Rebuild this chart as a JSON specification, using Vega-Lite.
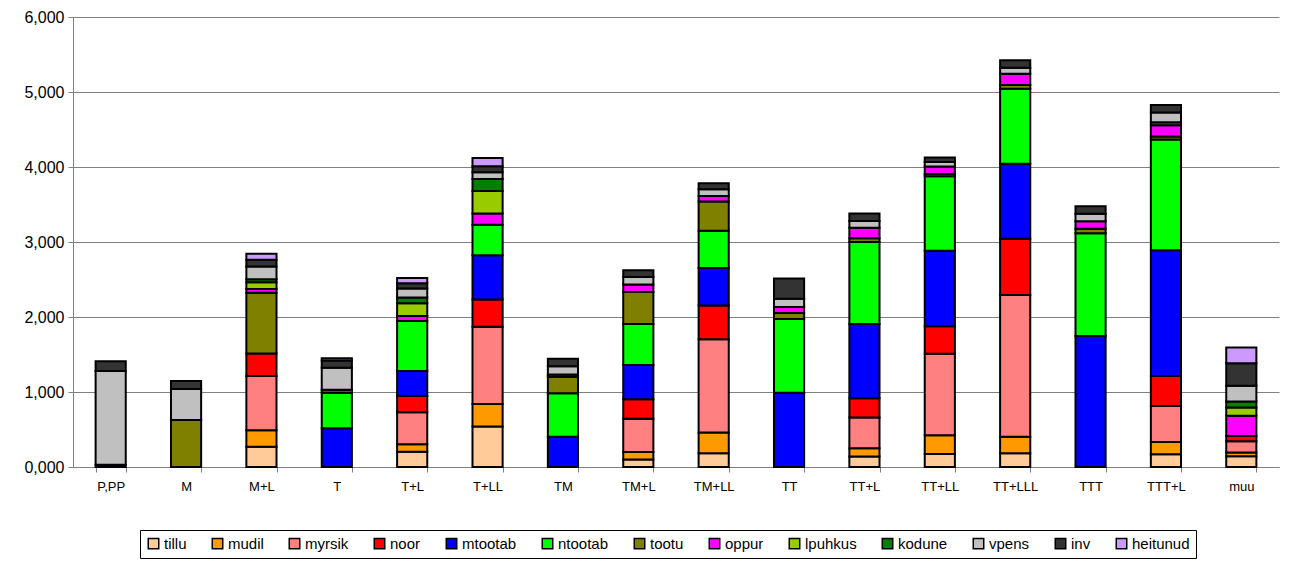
{
  "$schema": "https://vega.github.io/schema/vega-lite/v6.json",
  "width": 1206,
  "height": 450,
  "autosize": {"type": "none"},
  "padding": {"left": 73, "top": 17, "right": 10, "bottom": 95},
  "background": "white",
  "config": {"font": "Liberation Sans", "view": {"stroke": null}},
  "data": {"values": [
    {"c": "P,PP", "mtootab": 30, "vpens": 1250, "inv": 130},
    {"c": "M", "tootu": 627, "vpens": 413, "inv": 107},
    {"c": "M+L", "tillu": 270, "mudil": 220, "myrsik": 725, "noor": 300, "tootu": 808, "oppur": 50, "lpuhkus": 90, "kodune": 40, "vpens": 170, "inv": 90, "heitunud": 80},
    {"c": "T", "mtootab": 516, "ntootab": 475, "oppur": 40, "vpens": 293, "inv": 95, "heitunud": 30},
    {"c": "T+L", "tillu": 205, "mudil": 100, "myrsik": 425, "noor": 218, "mtootab": 333, "ntootab": 667, "oppur": 66, "lpuhkus": 170, "kodune": 75, "vpens": 120, "inv": 70, "heitunud": 70},
    {"c": "T+LL", "tillu": 540, "mudil": 300, "myrsik": 1030, "noor": 365, "mtootab": 590, "ntootab": 405, "oppur": 150, "lpuhkus": 300, "kodune": 160, "vpens": 90, "inv": 80, "heitunud": 110},
    {"c": "TM", "mtootab": 405, "ntootab": 578, "tootu": 222, "oppur": 30, "vpens": 110, "inv": 100},
    {"c": "TM+L", "tillu": 100, "mudil": 100, "myrsik": 444, "noor": 258, "mtootab": 458, "ntootab": 547, "tootu": 426, "oppur": 100, "vpens": 100, "inv": 90},
    {"c": "TM+LL", "tillu": 185, "mudil": 275, "myrsik": 1245, "noor": 450, "mtootab": 500, "ntootab": 495, "tootu": 390, "oppur": 75, "vpens": 90, "inv": 80},
    {"c": "TT", "mtootab": 990, "ntootab": 983, "tootu": 80, "oppur": 80, "vpens": 110, "inv": 270},
    {"c": "TT+L", "tillu": 140, "mudil": 110, "myrsik": 410, "noor": 258, "mtootab": 990, "ntootab": 1093, "tootu": 50, "oppur": 140, "vpens": 90, "inv": 100},
    {"c": "TT+LL", "tillu": 175, "mudil": 250, "myrsik": 1085, "noor": 368, "mtootab": 1004, "ntootab": 996, "tootu": 30, "oppur": 100, "vpens": 60, "inv": 60},
    {"c": "TT+LLL", "tillu": 185, "mudil": 220, "myrsik": 1890, "noor": 750, "mtootab": 1000, "ntootab": 1000, "tootu": 50, "oppur": 150, "vpens": 80, "inv": 100},
    {"c": "TTT", "mtootab": 1747, "ntootab": 1370, "tootu": 60, "oppur": 100, "vpens": 100, "inv": 100},
    {"c": "TTT+L", "tillu": 170, "mudil": 165, "myrsik": 480, "noor": 400, "mtootab": 1675, "ntootab": 1476, "tootu": 40, "oppur": 150, "kodune": 40, "vpens": 130, "inv": 100},
    {"c": "muu", "tillu": 145, "mudil": 50, "myrsik": 150, "noor": 70, "oppur": 270, "lpuhkus": 110, "kodune": 80, "vpens": 210, "inv": 300, "heitunud": 210}
  ]},
  "transform": [
    {"fold": ["tillu", "mudil", "myrsik", "noor", "mtootab", "ntootab", "tootu", "oppur", "lpuhkus", "kodune", "vpens", "inv", "heitunud"], "as": ["s", "v"]},
    {"filter": "isValid(datum.v) && datum.v > 0"},
    {"calculate": "indexof(['tillu','mudil','myrsik','noor','mtootab','ntootab','tootu','oppur','lpuhkus','kodune','vpens','inv','heitunud'], datum.s)", "as": "o"}
  ],
  "mark": {"type": "bar", "stroke": "black", "strokeWidth": 2},
  "encoding": {
    "x": {
      "field": "c", "type": "nominal",
      "sort": ["P,PP", "M", "M+L", "T", "T+L", "T+LL", "TM", "TM+L", "TM+LL", "TT", "TT+L", "TT+LL", "TT+LLL", "TTT", "TTT+L", "muu"],
      "scale": {"paddingInner": 0.6, "paddingOuter": 0.3},
      "axis": {"title": null, "labelAngle": 0, "tickBand": "extent", "domainColor": "#808080", "tickColor": "#808080", "tickSize": 5, "labelFontSize": 13, "labelColor": "black", "labelPadding": 8}
    },
    "y": {
      "field": "v", "type": "quantitative", "stack": "zero",
      "scale": {"domain": [0, 6000], "nice": false},
      "axis": {"title": null, "values": [0, 1000, 2000, 3000, 4000, 5000, 6000], "labelExpr": "datum.value == 0 ? '0,000' : format(datum.value, ',')", "gridColor": "#808080", "domainColor": "#808080", "tickColor": "#808080", "tickSize": 5, "labelFontSize": 16, "labelColor": "black", "labelPadding": 4}
    },
    "color": {
      "field": "s", "type": "nominal",
      "scale": {
        "domain": ["tillu", "mudil", "myrsik", "noor", "mtootab", "ntootab", "tootu", "oppur", "lpuhkus", "kodune", "vpens", "inv", "heitunud"],
        "range": ["#FFCC99", "#FF9900", "#FF8080", "#FF0000", "#0000FF", "#00FF00", "#808000", "#FF00FF", "#99CC00", "#008000", "#C0C0C0", "#333333", "#CC99FF"]
      },
      "legend": {"title": null, "orient": "none", "legendX": 67, "legendY": 513, "direction": "horizontal", "columns": 13, "symbolType": "square", "symbolSize": 110, "symbolStrokeColor": "black", "symbolStrokeWidth": 1.5, "symbolOpacity": 1, "labelFontSize": 15, "labelColor": "black", "labelOffset": 3, "columnPadding": 22, "strokeColor": "black", "padding": 6}
    },
    "order": {"field": "o", "type": "quantitative"}
  }
}
